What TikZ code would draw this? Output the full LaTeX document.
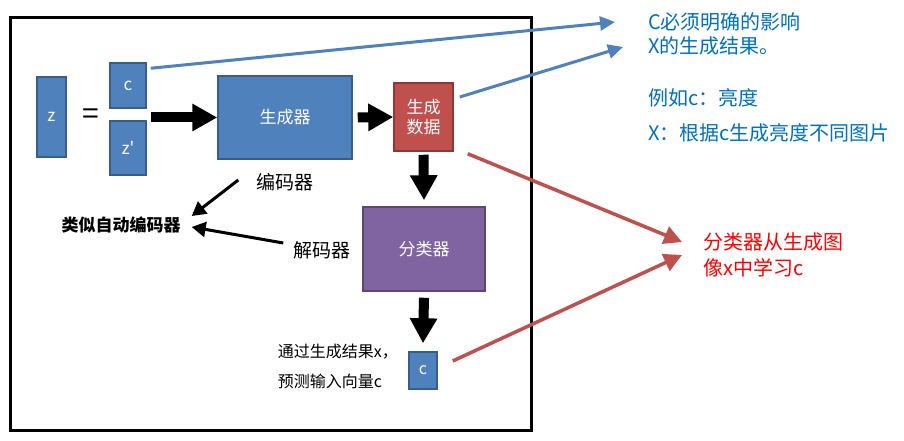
\documentclass[tikz,border=0pt]{standalone}
\usepackage{fontspec}
\setmainfont{Noto Sans CJK SC}
\usetikzlibrary{arrows.meta}
\definecolor{bfill}{HTML}{4F81BD}
\definecolor{bdraw}{HTML}{385D8A}
\definecolor{rfill}{HTML}{C0504D}
\definecolor{rdraw}{HTML}{8C3836}
\definecolor{pfill}{HTML}{8064A2}
\definecolor{pdraw}{HTML}{5C4776}
\definecolor{tblue}{HTML}{0070C0}
\definecolor{tred}{HTML}{FF0000}
\tikzset{
  bbox/.style={rectangle, fill=bfill, draw=bdraw, line width=1.5pt, text=white, inner sep=0pt},
  rbox/.style={rectangle, fill=rfill, draw=rdraw, line width=1.5pt, text=white, inner sep=0pt, align=center},
  pbox/.style={rectangle, fill=pfill, draw=pdraw, line width=1.5pt, text=white, inner sep=0pt},
  blk/.style={line width=10pt, -{Triangle[length=25pt, width=26pt]}},
  thinarr/.style={line width=3pt, -{Triangle[length=14pt, width=15pt]}},
  bline/.style={draw=bfill, line width=3pt, -{Triangle[length=15pt, width=14pt]}},
  rline/.style={draw=rfill, line width=3.5pt, -{Triangle[length=18pt, width=18pt]}},
  lbl/.style={inner sep=0pt, font=\fontsize{19}{22}\selectfont},
}
\begin{document}
\begin{tikzpicture}[x=1pt,y=1pt]
\useasboundingbox (0,0) rectangle (904,-441);
\draw[line width=3pt] (10,-18) rectangle (531,-430);
% boxes
\node[bbox, minimum width=29pt, minimum height=80pt, font=\fontsize{17}{19}\selectfont] (z) at (51.5,-117) {z};
\node[inner sep=0pt, font=\fontsize{30}{30}\selectfont] (eq) at (91,-117) {=};
\node[bbox, minimum width=36pt, minimum height=45pt, font=\fontsize{17}{19}\selectfont] (c) at (128,-85.5) {c};
\node[bbox, minimum width=36pt, minimum height=54pt, font=\fontsize{17}{19}\selectfont] (zp) at (128,-148) {z\textquotesingle};
\node[bbox, minimum width=134pt, minimum height=83pt, font=\fontsize{17}{20}\selectfont] (gen) at (285,-117.5) {生成器};
\node[rbox, minimum width=59pt, minimum height=68pt, font=\fontsize{17}{20}\selectfont] (data) at (423.5,-117) {生成\\数据};
\node[pbox, minimum width=122pt, minimum height=84pt, font=\fontsize{17}{20}\selectfont] (cls) at (424,-249) {分类器};
\node[bbox, minimum width=28pt, minimum height=37pt, font=\fontsize{16}{18}\selectfont] (cs) at (423,-370.5) {c};
% labels
\node[lbl] (enc) at (285,-182) {编码器};
\node[lbl] (dec) at (322,-250) {解码器};
\node[inner sep=0pt, font=\fontsize{17}{20}\selectfont\bfseries] (ae) at (121,-225) {类似自动编码器};
\node[inner sep=0pt, anchor=east, align=left, font=\fontsize{16}{30}\selectfont] (pred) at (398,-366) {通过生成结果x，\\预测输入向量c};
\node[inner sep=0pt, anchor=west, align=left, text=tblue, font=\fontsize{20}{24}\selectfont] (t1) at (648,-34) {C必须明确的影响\\X的生成结果。};
\node[inner sep=0pt, anchor=west, text=tblue, font=\fontsize{20}{24}\selectfont] (t2) at (648,-98) {例如c：亮度};
\node[inner sep=0pt, anchor=west, text=tblue, font=\fontsize{20}{24}\selectfont] (t3) at (648,-133) {X：根据c生成亮度不同图片};
\node[inner sep=0pt, anchor=west, align=left, text=tred, font=\fontsize{20}{26}\selectfont] (t4) at (703,-255) {分类器从生成图\\像x中学习c};
% block arrows
\draw[blk] ([xshift=4pt]c.south east |- gen.west) -- (gen.west);
\draw[blk] ([xshift=5pt]gen.east) -- (data.west);
\draw[blk] ([yshift=-3pt]data.south) -- ([yshift=6pt]cls.north);
\draw[blk] ([yshift=-6pt]cls.south) -- ([yshift=8pt]cs.north);
% thin arrows
\draw[thinarr] ([xshift=-18pt,yshift=2pt]enc.west) -- ([xshift=11pt,yshift=9pt]ae.east);
\draw[thinarr] ([xshift=-10pt,yshift=7pt]dec.west) -- ([xshift=11pt,yshift=-2pt]ae.east);
% blue lines
\coordinate (b1) at ([xshift=-33pt,yshift=12pt]t1.west);
\coordinate (b2) at ([xshift=-25pt,yshift=-13pt]t1.west);
\draw[bline] ([xshift=4pt,yshift=-6pt]c.north east) -- (b1);
\draw[bline] ([xshift=6pt,yshift=20pt]data.east) -- (b2);
% red lines
\coordinate (r1) at ([xshift=-21pt,yshift=13pt]t4.west);
\coordinate (r2) at ([xshift=-21pt,yshift=0pt]t4.west);
\draw[rline] ([xshift=14pt,yshift=-2pt]data.south east) -- (r1);
\draw[rline] ([xshift=15pt,yshift=9.5pt]cs.east) -- (r2);
\end{tikzpicture}
\end{document}
